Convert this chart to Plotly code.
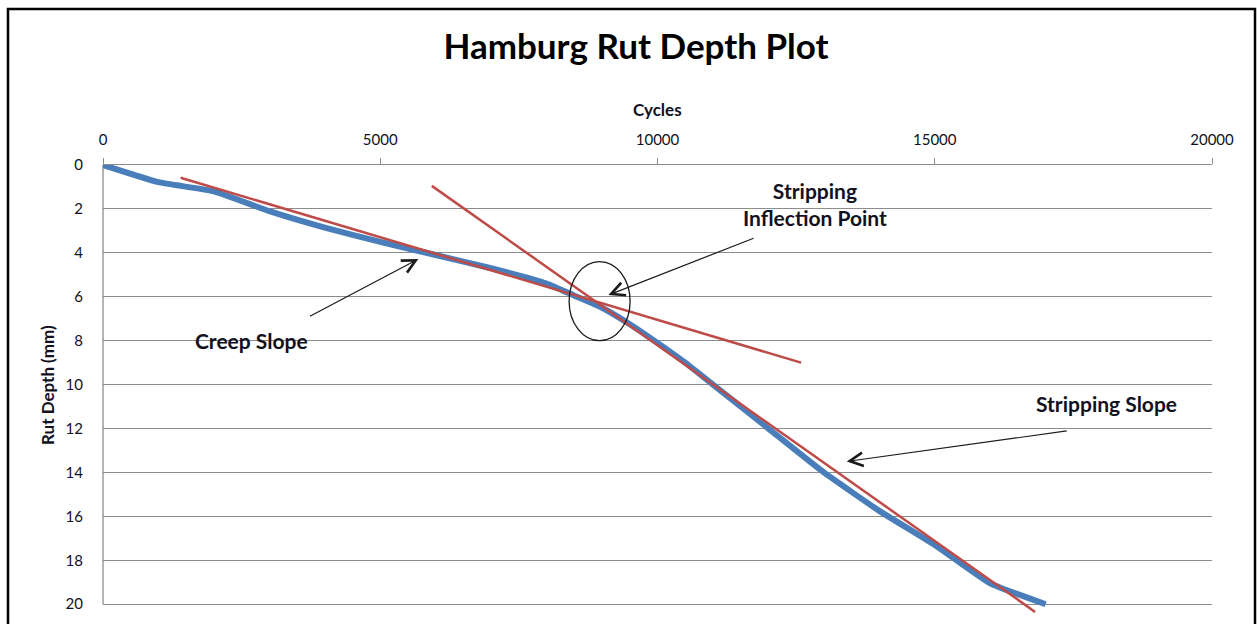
import plotly.graph_objects as go

# Measured rut depth (blue)
cycles = [0, 1000, 2000, 3000, 4000, 5000, 6000, 7000, 8000, 8500, 9000, 9500,
          10000, 10500, 11000, 12000, 13000, 14000, 15000, 16000, 17000]
rut_depth = [0.0, 0.78, 1.2, 2.1, 2.85, 3.5, 4.1, 4.7, 5.4, 5.95, 6.5, 7.25,
             8.1, 9.0, 10.0, 12.0, 14.0, 15.75, 17.3, 19.05, 20.0]

# Tangent lines (red)
creep_x = [1400, 12590]
creep_y = [0.58, 9.0]
strip_x = [5930, 16810]
strip_y = [0.95, 20.35]

x_ticks = [0, 5000, 10000, 15000, 20000]
y_ticks = [0, 2, 4, 6, 8, 10, 12, 14, 16, 18, 20]

FONT = "Lato"
BLUE = "#4A7EBB"
RED = "#BE4B48"
GRID = "#8C8C8C"
TXT = "#111122"

fig = go.Figure()
fig.add_trace(go.Scatter(x=cycles, y=rut_depth, mode="lines",
                         line=dict(color=BLUE, width=6, shape="spline", smoothing=0.4),
                         showlegend=False, hoverinfo="skip"))
fig.add_trace(go.Scatter(x=creep_x, y=creep_y, mode="lines",
                         line=dict(color=RED, width=2.5), showlegend=False))
fig.add_trace(go.Scatter(x=strip_x, y=strip_y, mode="lines",
                         line=dict(color=RED, width=2.5), showlegend=False))

L, R, T, B = 103, 45, 165, 11
W, H = 1257, 624
PW, PH = W - L - R, H - T - B


def px(xp):
    return (xp - L) / PW


def py(yp):
    return (H - B - yp) / PH


shapes = [
    # outer frame
    dict(type="rect", xref="paper", yref="paper", x0=px(8), x1=px(1255), y0=py(632), y1=py(9),
         line=dict(color="black", width=2.5), fillcolor="rgba(0,0,0,0)", layer="above"),
    # y axis line from 0 to 20
    dict(type="line", xref="paper", yref="y", x0=0, x1=0, y0=0, y1=20,
         line=dict(color=GRID, width=1.3), layer="below"),
    # ellipse around inflection point
    dict(type="circle", xref="x", yref="y", x0=8406, x1=9506, y0=4.40, y1=8.0,
         line=dict(color="#1a1a1a", width=1.3)),
]

annotations = [
    dict(text="<b>Cycles</b>", xref="paper", yref="paper", x=px(657), y=py(110),
         xanchor="center", yanchor="middle",
         showarrow=False, font=dict(family=FONT, size=17, color=TXT)),
    dict(text="<b>Rut Depth (mm)</b>", xref="paper", yref="paper", x=px(47), y=py(385),
         xanchor="center", yanchor="middle",
         textangle=-90, showarrow=False, font=dict(family=FONT, size=17, color=TXT)),
    dict(text="<b>Creep Slope</b>", x=2687, y=7.97, xref="x", yref="y", showarrow=False,
         xanchor="center", yanchor="middle",
         font=dict(family=FONT, size=21, color=TXT)),
    dict(text="<b>Stripping<br>Inflection Point</b>", x=12840, y=1.78, xref="x", yref="y",
         xanchor="center", yanchor="middle",
         showarrow=False, font=dict(family=FONT, size=21, color=TXT)),
    dict(text="<b>Stripping Slope</b>", x=18106, y=10.84, xref="x", yref="y", showarrow=False,
         xanchor="center", yanchor="middle",
         font=dict(family=FONT, size=21, color=TXT)),
]

arrows = [((5687, 4.28), (3704, 6.92)),
          ((9115, 5.92), (11760, 3.31)),
          ((13413, 13.5), (17408, 12.1))]
for (hx, hy), (tx, ty) in arrows:
    annotations.append(dict(x=hx, y=hy, ax=tx, ay=ty, xref="x", yref="y", axref="x", ayref="y",
                            text="", showarrow=True, arrowhead=5, arrowsize=2.2,
                            arrowwidth=1.2, arrowcolor="#1a1a1a"))

fig.update_layout(
    width=W, height=H,
    margin=dict(l=L, r=R, t=T, b=B),
    paper_bgcolor="white", plot_bgcolor="white",
    title=dict(text="<b>Hamburg Rut Depth Plot</b>", xref="container", yref="container",
               x=636 / W, y=1 - 47 / H, xanchor="center", yanchor="middle",
               font=dict(family=FONT, size=35, color="black")),
    xaxis=dict(side="top", range=[0, 20000], tickvals=x_ticks,
               ticktext=[str(v) for v in x_ticks],
               showgrid=False, zeroline=False, showline=True, linecolor=GRID, linewidth=1.3,
               ticks="outside", ticklen=6, tickcolor=GRID, tickwidth=1,
               ticklabelstandoff=7,
               tickfont=dict(family=FONT, size=15, color=TXT)),
    yaxis=dict(range=[20.4, 0], tickvals=y_ticks, ticktext=[str(v) for v in y_ticks],
               showgrid=True, gridcolor=GRID, gridwidth=1.3, zeroline=False, showline=False,
               ticks="", ticklabelstandoff=19,
               tickfont=dict(family=FONT, size=15, color=TXT)),
    shapes=shapes,
    annotations=annotations,
    showlegend=False,
)

fig.write_html("out.html", config={"displayModeBar": False},
               post_script="document.body.style.margin='0px';document.body.style.overflow='hidden';")
